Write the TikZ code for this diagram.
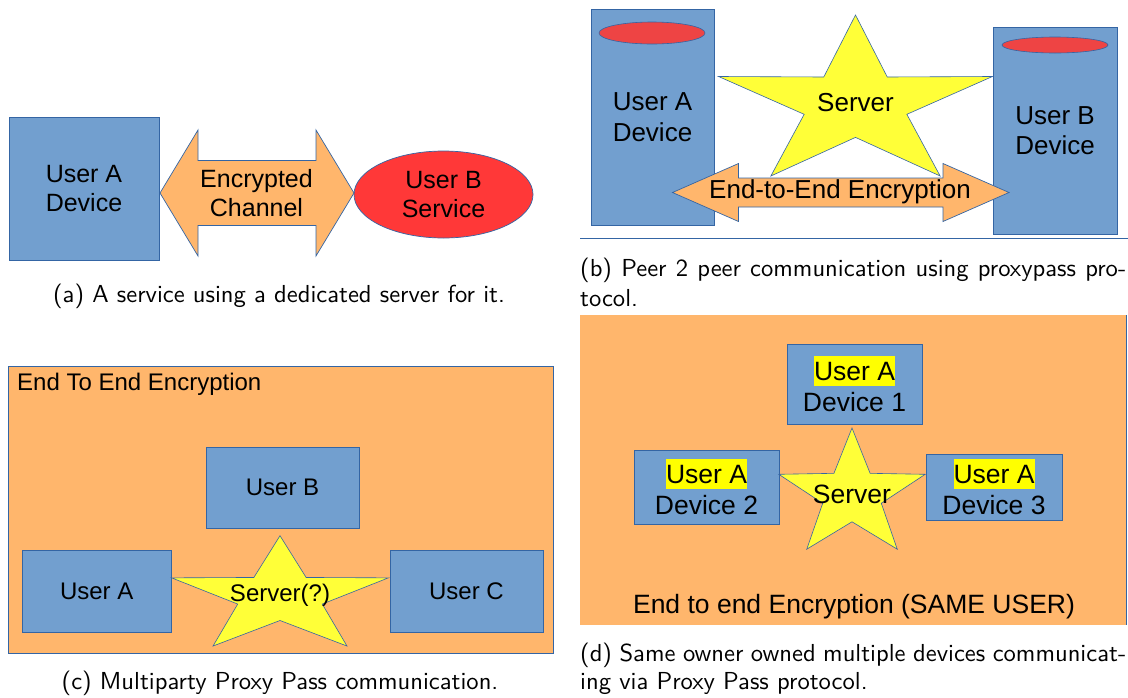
\documentclass[tikz,border=0pt]{standalone}
\usepackage{fontspec}
\newfontfamily\diag{Liberation Sans}
\newfontfamily\capfont{lmsans10-regular.otf}
\usetikzlibrary{shapes.geometric}

\definecolor{boxblue}{HTML}{729FCF}
\definecolor{edgeblue}{HTML}{3465A4}
\definecolor{zoneorange}{HTML}{FFB66C}
\definecolor{starfill}{HTML}{FFFF38}
\definecolor{svcred}{HTML}{FF3838}
\definecolor{capred}{HTML}{EE4444}
\definecolor{hlyellow}{HTML}{FFFF00}

% diagram fonts per panel
\newcommand{\fpa}{\diag\fontsize{25}{29}\selectfont}
\newcommand{\fpb}{\diag\fontsize{26}{30.5}\selectfont}
\newcommand{\fpc}{\diag\fontsize{24}{28}\selectfont}
\newcommand{\fpd}{\diag\fontsize{26.5}{31}\selectfont}
\newcommand{\fcap}{\capfont\fontsize{24.6}{30}\selectfont}

% yellow text highlight
\newcommand{\hlword}[1]{{\setlength{\fboxsep}{0pt}\colorbox{hlyellow}{\rule[-0.21em]{0pt}{1.12em}#1}}}

% full-width justified caption line
\newcommand{\fullline}[1]{\makebox[546pt][s]{#1}}

% five-pointed star: name, cx, cy, x radius, y radius, inner ratio
\newcommand{\bigstar}[6]{%
  \coordinate (#1) at (#2,#3);
  \filldraw[starsty] plot[samples at={0,...,9}, variable=\k]
    ({#2+#4*((1+#6)/2+(1-#6)/2*cos(180*\k))*cos(270+36*\k)},
     {#3+#5*((1+#6)/2+(1-#6)/2*cos(180*\k))*sin(270+36*\k)}) -- cycle;}

% horizontal double arrow: left tip x, right tip x, centre y, head half height, body half height, head length
\newcommand{\twoway}[6]{%
  \filldraw[arrowsty] (#1,#3) -- ({#1+#6},{#3-#4}) -- ({#1+#6},{#3-#5}) -- ({#2-#6},{#3-#5})
    -- ({#2-#6},{#3-#4}) -- (#2,#3) -- ({#2-#6},{#3+#4}) -- ({#2-#6},{#3+#5})
    -- ({#1+#6},{#3+#5}) -- ({#1+#6},{#3+#4}) -- cycle;}

\tikzset{
  devbox/.style={draw=edgeblue, fill=boxblue, line width=0.8pt, inner sep=0pt, align=center},
  starsty/.style={draw=edgeblue, fill=starfill, line width=0.6pt, line join=miter},
  arrowsty/.style={draw=edgeblue, fill=zoneorange, line width=0.7pt},
  zone/.style={fill=zoneorange, inner sep=0pt},
  lbl/.style={inner sep=0pt, align=center},
  caption/.style={inner sep=0pt, font=\fcap},
}

\begin{document}
\begin{tikzpicture}[x=1pt, y=-1pt]
\useasboundingbox (0,0) rectangle (1128,697);

% ---------- (a) dedicated server ----------
\node[devbox, minimum width=150pt, minimum height=143pt, font=\fpa] (uadev) at (84,188.5) {User A\\Device};
\node[draw=edgeblue, fill=svcred, line width=0.7pt, ellipse, inner sep=0pt,
      minimum width=179pt, minimum height=87pt, align=center, font=\fpa] (ubsvc) at (443.5,194.5) {User B\\Service};
\twoway{160}{354}{193}{63}{32.5}{38}
\node[lbl, font=\fpa] (chan) at (256.5,193) {Encrypted\\Channel};
\node[caption] (capa) at (279,296) {(a) A service using a dedicated server for it.};

% ---------- (b) peer to peer ----------
\node[devbox, minimum width=123pt, minimum height=216pt, font=\fpb] (pa) at (652.5,117) {User A\\Device};
\node[devbox, minimum width=124pt, minimum height=207pt, font=\fpb] (pb) at (1055,130.5) {User B\\Device};
\node[draw=edgeblue, fill=capred, line width=0.6pt, ellipse, inner sep=0pt,
      minimum width=106pt, minimum height=22pt] (pacap) at (652,33) {};
\node[draw=edgeblue, fill=capred, line width=0.6pt, ellipse, inner sep=0pt,
      minimum width=106pt, minimum height=16pt] (pbcap) at (1055,45) {};
\bigstar{srvb}{855.5}{104}{144}{89}{0.375}
\node[lbl, font=\fpb] (srvbtxt) at (855.5,103) {Server};
\twoway{672.5}{1009}{192.5}{29}{14.5}{66}
\node[lbl, font=\fpb] (e2eb) at (840,192) {End-to-End Encryption};
\coordinate (rulel) at (580,238.3);
\coordinate (ruler) at (1128,238.3);
\draw[edgeblue, line width=1pt] (rulel) -- (ruler);
\node[caption, anchor=west, align=left] (capb) at (580,282)
  {\fullline{(b) Peer 2 peer communication using proxypass pro-}\\tocol.};

% ---------- (c) multiparty ----------
\node[zone, draw=edgeblue, line width=0.8pt, anchor=north west,
      minimum width=545.5pt, minimum height=287.5pt] (zonec) at (7.5,365.5) {};
\node[lbl, anchor=west, font=\fpc] (titlec) at (17,384) {End To End Encryption};
\node[devbox, minimum width=153pt, minimum height=81pt, font=\fpc] (mub) at (282.5,487.5) {User B};
\node[devbox, minimum width=148.5pt, minimum height=82pt, font=\fpc] (mua) at (96.75,591) {User A};
\node[devbox, minimum width=153pt, minimum height=82pt, font=\fpc] (muc) at (466.5,591) {User C};
\bigstar{srvc}{280}{596.7}{114}{61}{0.39}
\node[lbl, font=\fpc] (srvctxt) at (280,595) {Server(?)};
\node[caption] (capc) at (280,683) {(c) Multiparty Proxy Pass communication.};

% ---------- (d) same owner ----------
\node[zone, anchor=north west, minimum width=546pt, minimum height=310pt] (zoned) at (580,315) {};
\draw[edgeblue, line width=1.6pt] (zoned.north east) -- (zoned.south east);
\node[devbox, minimum width=135pt, minimum height=80pt, font=\fpd] (dv1) at (854.5,384) {\hlword{User A}\\Device 1};
\node[devbox, minimum width=145pt, minimum height=74pt, font=\fpd] (dv2) at (706.5,487) {\hlword{User A}\\Device 2};
\node[devbox, minimum width=136pt, minimum height=66pt, font=\fpd] (dv3) at (994,487) {\hlword{User A}\\Device 3};
\bigstar{srvd}{852}{495}{77}{67}{0.40}
\node[lbl, font=\fpd] (srvdtxt) at (852,494) {Server};
\node[lbl, font=\fpd] (e2ed) at (854,607) {End to end Encryption (SAME USER)};
\node[caption, anchor=west, align=left, font=\capfont\fontsize{24.6}{28.5}\selectfont] (capd) at (580,669)
  {\fullline{(d) Same owner owned multiple devices communicat-}\\ing via Proxy Pass protocol.};
\end{tikzpicture}
\end{document}
